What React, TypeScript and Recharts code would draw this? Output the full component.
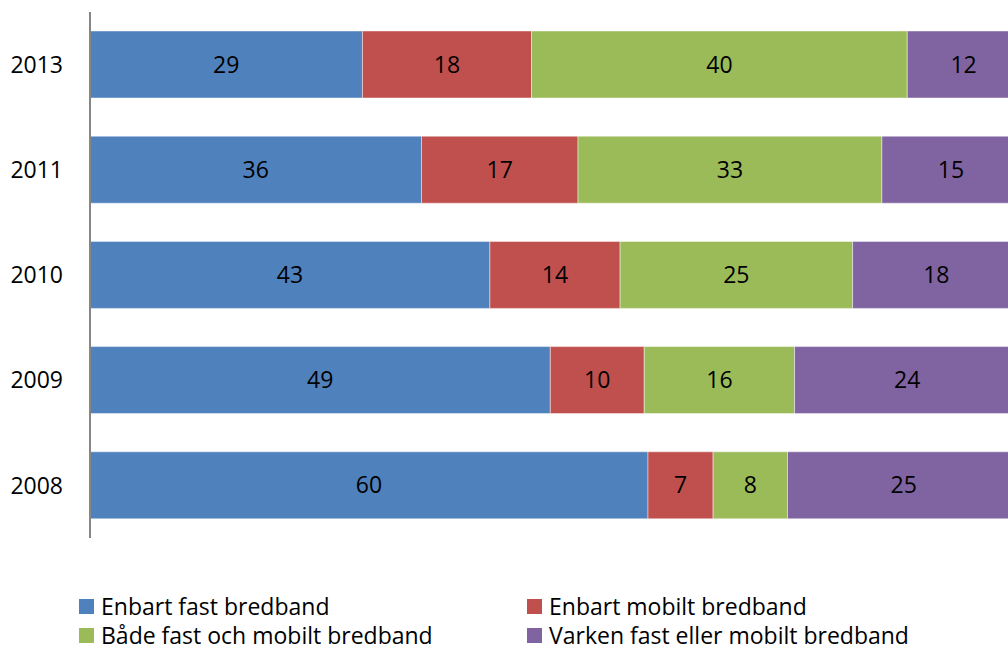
import React from "react";
import { BarChart, Bar, XAxis, YAxis, LabelList } from "recharts";

const years = ["2013", "2011", "2010", "2009", "2008"];
const enbartFast = [29, 36, 43, 49, 60];
const enbartMobilt = [18, 17, 14, 10, 7];
const bade = [40, 33, 25, 16, 8];
const varken = [12, 15, 18, 24, 25];

const series = [
  { key: "fast", name: "Enbart fast bredband", color: "#4F81BD", values: enbartFast },
  { key: "mobilt", name: "Enbart mobilt bredband", color: "#C0504D", values: enbartMobilt },
  { key: "bada", name: "Både fast och mobilt bredband", color: "#9BBB59", values: bade },
  { key: "varken", name: "Varken fast eller mobilt bredband", color: "#8064A2", values: varken },
];

const data = years.map((year, i) => {
  const row: any = { year };
  series.forEach((s) => (row[s.key] = s.values[i]));
  return row;
});

const FONT = "'Open Sans', Lato, sans-serif";

// legend sits under the plot in two columns, like the excel original
function LegendBox() {
  return (
    <div
      style={{
        position: "absolute",
        left: 79,
        top: 593,
        display: "grid",
        gridTemplateColumns: "448px 448px",
        rowGap: 3,
        fontFamily: FONT,
        fontSize: 23,
        color: "#000",
        lineHeight: "26px",
      }}
    >
      {series.map((s) => (
        <div key={s.key} style={{ display: "flex", alignItems: "center", height: 26 }}>
          <span style={{ width: 15, height: 15, background: s.color, display: "inline-block", marginRight: 7 }} />
          <span style={{ whiteSpace: "nowrap" }}>{s.name}</span>
        </div>
      ))}
    </div>
  );
}

export default function App() {
  return (
    <div style={{ position: "fixed", left: 0, top: 0, width: 1008, height: 652, overflow: "hidden", background: "#fff" }}>
      <BarChart
        width={1030}
        height={652}
        data={data}
        layout="vertical"
        stackOffset="expand"
        margin={{ top: 12, right: 10, bottom: 114, left: 0 }}
      >
        <XAxis type="number" domain={[0, 1]} hide />
        <YAxis
          type="category"
          dataKey="year"
          width={90}
          axisLine={{ stroke: "#868686", strokeWidth: 2 }}
          tickLine={false}
          tickMargin={21}
          tick={{ fill: "#000", fontSize: 23, fontFamily: FONT }}
        />
        {series.map((s) => (
          <Bar
            key={s.key}
            dataKey={s.key}
            name={s.name}
            stackId="a"
            fill={s.color}
            stroke="rgba(255,255,255,0.45)"
            strokeWidth={1}
            barSize={67}
            isAnimationActive={false}
          >
            <LabelList dataKey={s.key} position="center" fill="#000" fontSize={23} fontFamily={FONT} />
          </Bar>
        ))}
      </BarChart>
      <LegendBox />
    </div>
  );
}
